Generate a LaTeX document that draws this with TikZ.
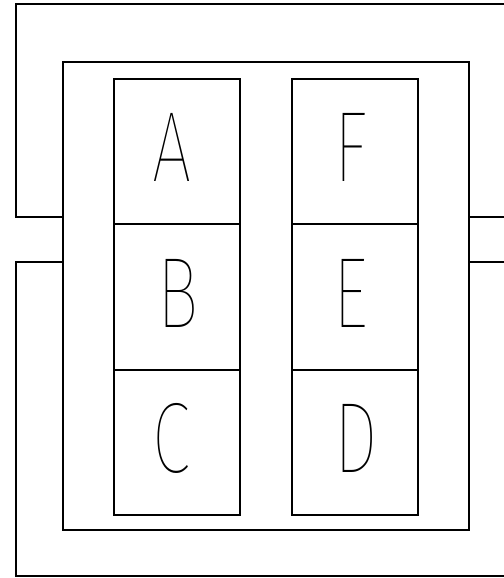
\documentclass[tikz,border=0pt]{standalone}
\usepackage{fontspec}
\usepackage{graphicx}
\newcommand\lettersz{100bp}
\newcommand\letterxs{0.7}
\IfFontExistsTF{Fira Sans Thin}{\newfontfamily\thinfont{Fira Sans Thin}}{%
 \IfFontExistsTF{DejaVu Sans ExtraLight}{\newfontfamily\thinfont{DejaVu Sans ExtraLight}\renewcommand\lettersz{94.5bp}\renewcommand\letterxs{0.6}}{%
  \IfFontExistsTF{DejaVuSans-ExtraLight.ttf}{\newfontfamily\thinfont{DejaVuSans-ExtraLight.ttf}\renewcommand\lettersz{94.5bp}\renewcommand\letterxs{0.6}}{%
   \IfFontExistsTF{Fira Sans Light}{\newfontfamily\thinfont{Fira Sans Light}}{%
    \newfontfamily\thinfont{Fira Sans}}}}}
\begin{document}
\begin{tikzpicture}[x=1bp,y=-1bp,line width=1.9bp,
  frm/.style={draw,inner sep=0pt,outer sep=0pt,anchor=north west},
  cell/.style={draw,inner sep=0pt,outer sep=0pt,minimum width=126.3bp,minimum height=145.3bp},
  letter/.style={font=\thinfont\fontsize{\lettersz}{110bp}\selectfont,inner sep=0pt,anchor=base,yshift=-30.3bp}]
\useasboundingbox (0,0) rectangle (504,578);
% inner frame
\node[frm,minimum width=405.7bp,minimum height=467.9bp] (frame) at (63.3,62.3) {};
% cells
\node[cell,anchor=north west] (A) at (114,79) {};
\node[cell,anchor=north] (B) at (A.south) {};
\node[cell,anchor=north] (C) at (B.south) {};
\node[cell,anchor=north west] (F) at (292,79) {};
\node[cell,anchor=north] (E) at (F.south) {};
\node[cell,anchor=north] (D) at (E.south) {};
% letters
\node[letter,xshift=-5bp] (tA) at (A) {\scalebox{\letterxs}[1]{A}};
\node[letter,xshift=1.3bp] (tB) at (B) {\scalebox{\letterxs}[1]{B}};
\node[letter,xshift=-5.7bp] (tC) at (C) {\scalebox{\letterxs}[1]{C}};
\node[letter,xshift=-4.3bp] (tF) at (F) {\scalebox{\letterxs}[1]{F}};
\node[letter,xshift=-4.3bp] (tE) at (E) {\scalebox{\letterxs}[1]{E}};
\node[letter,xshift=1.4bp] (tD) at (D) {\scalebox{\letterxs}[1]{D}};
% outer loops
\coordinate (ya) at (0,217.2);
\coordinate (yb) at (0,261.7);
\coordinate (otl) at (15.8,4.3);
\coordinate (obr) at (506,576.3);
\draw (frame.west |- ya) -| (otl) -| (obr |- ya) -- (frame.east |- ya);
\draw (frame.west |- yb) -| (otl |- obr) -| (obr |- yb) -- (frame.east |- yb);
\end{tikzpicture}
\end{document}
